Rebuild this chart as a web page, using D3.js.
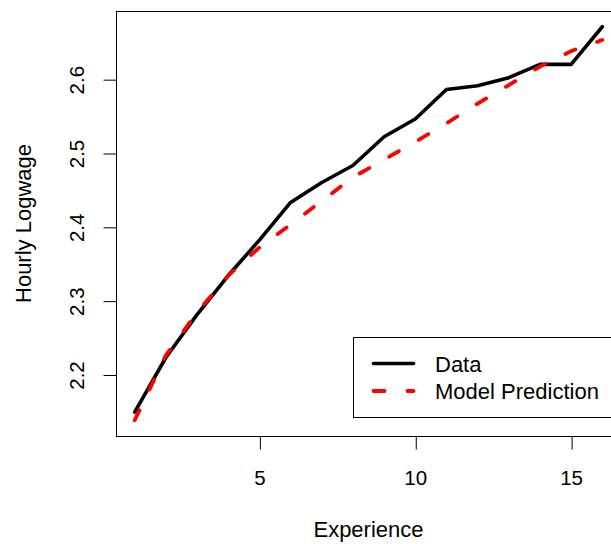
<!DOCTYPE html>
<html>
<head>
<meta charset="utf-8">
<script src="https://cdn.jsdelivr.net/npm/d3@7"></script>
<style>
  html, body { margin: 0; padding: 0; background: #fff; }
  svg { display: block; }
  text { font-family: "Liberation Sans", Arial, Helvetica, sans-serif; fill: #000; }
</style>
</head>
<body>
<svg id="chart" width="611" height="544"></svg>
<script>
// Years of experience and mean hourly log wage
const experience = [1, 2, 3, 4, 5, 6, 7, 8, 9, 10, 11, 12, 13, 14, 15, 16];
const logwage    = [2.149, 2.223, 2.281, 2.334, 2.382, 2.433, 2.460, 2.483,
                    2.522, 2.546, 2.586, 2.591, 2.602, 2.620, 2.620, 2.671];
const predicted  = [2.138, 2.226, 2.284, 2.334, 2.372, 2.403, 2.435, 2.467,
                    2.491, 2.515, 2.540, 2.567, 2.592, 2.617, 2.638, 2.653];
const xTicks = [5, 10, 15];
const yTicks = [2.2, 2.3, 2.4, 2.5, 2.6];
const legendLabels = ["Data", "Model Prediction"];

const svg = d3.select("#chart");
const box = { left: 116, right: 621, top: 11, bottom: 436 };
const tickFont = 20.5;
const labelFont = 22;
const dashes = "11,23";

// R-style 4% padding around the data range
function padded(lo, hi) {
  const d = (hi - lo) * 0.04;
  return [lo - d, hi + d];
}
const xExt = d3.extent(experience);
const yExt = [d3.min(logwage.concat(predicted)), d3.max(logwage.concat(predicted))];

const x = d3.scaleLinear().domain(padded(xExt[0], xExt[1])).range([box.left, box.right]);
const y = d3.scaleLinear().domain(padded(yExt[0], yExt[1])).range([box.bottom, box.top]);

// Plot frame
svg.append("rect")
  .attr("x", box.left + 0.5).attr("y", box.top + 0.5)
  .attr("width", box.right - box.left).attr("height", box.bottom - box.top)
  .attr("fill", "none").attr("stroke", "#000").attr("stroke-width", 1);

// Bottom axis
const xAxis = svg.append("g")
  .attr("transform", `translate(0,${box.bottom + 0.5})`)
  .call(d3.axisBottom(x).tickValues(xTicks).tickSize(13).tickPadding(21)
        .tickFormat(d3.format("d")));
xAxis.select(".domain").remove();
xAxis.selectAll("line").attr("stroke", "#000").attr("transform", "translate(0.5,0)");
xAxis.selectAll("text").attr("font-size", tickFont).attr("fill", "#000")
  .attr("font-family", "Liberation Sans, Arial, sans-serif");

// Left axis with rotated labels
const yAxis = svg.append("g")
  .attr("transform", `translate(${box.left + 0.5},0)`)
  .call(d3.axisLeft(y).tickValues(yTicks).tickSize(13).tickFormat(d3.format(".1f")));
yAxis.select(".domain").remove();
yAxis.selectAll("line").attr("stroke", "#000").attr("transform", "translate(0,0.5)");
yAxis.selectAll("text")
  .attr("font-size", tickFont).attr("fill", "#000")
  .attr("font-family", "Liberation Sans, Arial, sans-serif")
  .attr("x", null).attr("dy", null)
  .attr("text-anchor", "middle")
  .attr("transform", "translate(-33,0.5) rotate(-90)");

// Axis titles
svg.append("text")
  .attr("x", (box.left + box.right) / 2).attr("y", 537)
  .attr("text-anchor", "middle").attr("font-size", labelFont)
  .text("Experience");
svg.append("text")
  .attr("transform", `translate(31,${(box.top + box.bottom) / 2}) rotate(-90)`)
  .attr("text-anchor", "middle").attr("font-size", labelFont)
  .text("Hourly Logwage");

// Series lines
const line = d3.line().x(d => x(d[0])).y(d => y(d[1]));
const plot = svg.append("g");

plot.append("path")
  .datum(experience.map((e, i) => [e, logwage[i]]))
  .attr("d", line)
  .attr("fill", "none").attr("stroke", "#000").attr("stroke-width", 3.6)
  .attr("stroke-linejoin", "round").attr("stroke-linecap", "round");

plot.append("path")
  .datum(experience.map((e, i) => [e, predicted[i]]))
  .attr("d", line)
  .attr("fill", "none").attr("stroke", "#ff0000").attr("stroke-width", 3.8)
  .attr("stroke-dasharray", dashes)
  .attr("stroke-linejoin", "round").attr("stroke-linecap", "round");

// Legend
const lg = svg.append("g");
lg.append("rect")
  .attr("x", 353.5).attr("y", 337.5)
  .attr("width", box.right - 353.5).attr("height", 80)
  .attr("fill", "#fff").attr("stroke", "#000").attr("stroke-width", 1);

const legendStyles = [
  { stroke: "#000", dash: null, width: 3.6 },
  { stroke: "#ff0000", dash: dashes, width: 3.8 }
];
legendLabels.forEach((lab, i) => {
  const ly = 363.5 + i * 27.5;
  lg.append("line")
    .attr("x1", 373.5).attr("x2", 413.5).attr("y1", ly).attr("y2", ly)
    .attr("stroke", legendStyles[i].stroke).attr("stroke-width", legendStyles[i].width)
    .attr("stroke-dasharray", legendStyles[i].dash)
    .attr("stroke-linecap", "round");
  lg.append("text")
    .attr("x", 435).attr("y", ly + 8)
    .attr("font-size", labelFont)
    .text(lab);
});
</script>
</body>
</html>
